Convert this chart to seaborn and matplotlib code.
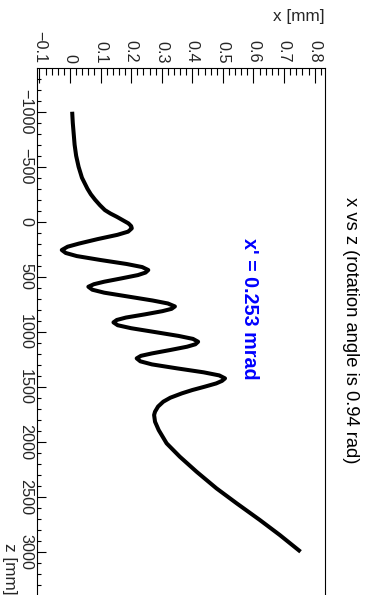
import matplotlib
matplotlib.use("Agg")
import matplotlib.pyplot as plt
from matplotlib.ticker import MultipleLocator
import pandas as pd
import seaborn as sns

# Beam trajectory: longitudinal position z [mm] and transverse offset x [mm]
z_mm = [-1000, -900, -800, -700, -600, -500, -400, -300, -250, -200, -150, -106, -75,
        -45, -15, 15, 40, 60,
        90, 119, 158, 198, 227, 257,
        284, 312, 348, 384, 412, 439,
        462, 485, 515, 545, 568, 591,
        618, 645, 680, 716, 743, 770,
        792, 813, 842, 871, 893, 915,
        941, 968, 1003, 1038, 1065, 1091,
        1114, 1136, 1166, 1197, 1219, 1242,
        1269, 1297, 1333, 1369, 1397, 1424,
        1447, 1470, 1500, 1530, 1560, 1600, 1636, 1680, 1727, 1757, 1818, 1894,
        2015, 2136, 2273, 2424, 2560, 2712, 2848, 3000]
x_mm = [0.007, 0.009, 0.012, 0.015, 0.020, 0.028, 0.039, 0.057, 0.068, 0.082, 0.098,
        0.114, 0.132, 0.153, 0.172, 0.191, 0.200, 0.202,
        0.190, 0.155, 0.090, 0.030, -0.008, -0.027,
        -0.014, 0.022, 0.100, 0.185, 0.236, 0.256,
        0.247, 0.222, 0.168, 0.112, 0.078, 0.060,
        0.073, 0.112, 0.190, 0.270, 0.320, 0.343,
        0.332, 0.302, 0.245, 0.183, 0.153, 0.142,
        0.156, 0.200, 0.278, 0.355, 0.402, 0.419,
        0.410, 0.383, 0.328, 0.268, 0.232, 0.218,
        0.230, 0.268, 0.350, 0.437, 0.488, 0.507,
        0.497, 0.478, 0.440, 0.400, 0.366, 0.328, 0.305, 0.288, 0.278, 0.275, 0.278,
        0.290, 0.316, 0.359, 0.414, 0.479, 0.545, 0.621, 0.686, 0.754]

x_ticks = [-0.1, 0, 0.1, 0.2, 0.3, 0.4, 0.5, 0.6, 0.7, 0.8]
x_tick_labels = ["\u22120.1", "0", "0.1", "0.2", "0.3", "0.4", "0.5", "0.6", "0.7", "0.8"]
z_ticks = [-1000, -500, 0, 500, 1000, 1500, 2000, 2500, 3000]
z_tick_labels = ["\u22121000", "\u2212500", "0", "500", "1000", "1500", "2000", "2500", "3000"]

title = "x vs z (rotation angle is 0.94 rad)"
slope_text = "x' = 0.253 mrad"

sns.set_style("white")
plt.rcParams["font.family"] = ["Liberation Sans", "DejaVu Sans"]

df = pd.DataFrame({"z": z_mm, "x": x_mm})

fig = plt.figure(figsize=(3.67, 5.95), dpi=100)
ax = fig.add_axes([0.1, -0.0012, 0.7856, 0.8864])

sns.lineplot(data=df, x="x", y="z", orient="y", sort=False, estimator=None,
             color="black", linewidth=2.9, legend=False, ax=ax)
for ln in ax.get_lines():
    ln.set_solid_joinstyle("round")
    ln.set_solid_capstyle("butt")

ax.set_xlim(-0.109, 0.834)
ax.set_ylim(3400, -1395)
ax.set_xlabel("")
ax.set_ylabel("")

ax.set_xticks(x_ticks, labels=x_tick_labels)
ax.set_yticks(z_ticks, labels=z_tick_labels)
ax.xaxis.set_minor_locator(MultipleLocator(0.02))
ax.yaxis.set_minor_locator(MultipleLocator(100))

ax.tick_params(axis="x", which="both", direction="in", top=True, bottom=False,
               labeltop=True, labelbottom=False, width=0.8, color="black")
ax.tick_params(axis="x", which="major", length=10.8, pad=3.8, labelsize=11.7,
               labelrotation=-90)
ax.tick_params(axis="x", which="minor", length=5.3)
ax.tick_params(axis="y", which="both", direction="in", left=True, right=False,
               width=0.8, color="black")
ax.tick_params(axis="y", which="major", length=6.7, pad=2.5, labelsize=11.7,
               labelrotation=-90)
ax.tick_params(axis="y", which="minor", length=3.2)

for sp in ax.spines.values():
    sp.set_visible(True)
    sp.set_color("black")
    sp.set_linewidth(0.8)

plt.setp(ax.get_yticklabels(), va="center")
plt.setp(ax.get_xticklabels(), ha="center", va="bottom")

fig.text(350 / 367, 1 - 330 / 595, title, rotation=-90, ha="center", va="center",
         fontsize=13.2, color="black")
fig.text(250 / 367, 1 - 309 / 595, slope_text, rotation=-90, ha="center", va="center",
         fontsize=14.2, fontweight="bold", color="#0000ff")
fig.text(325 / 367, 1 - 16 / 595, "x [mm]", ha="right", va="center", fontsize=12.3)
fig.text(9 / 367, 0.5 / 595, "z [mm]", rotation=-90, ha="center", va="bottom",
         fontsize=12.3)

fig.savefig("out.png", dpi=100)
